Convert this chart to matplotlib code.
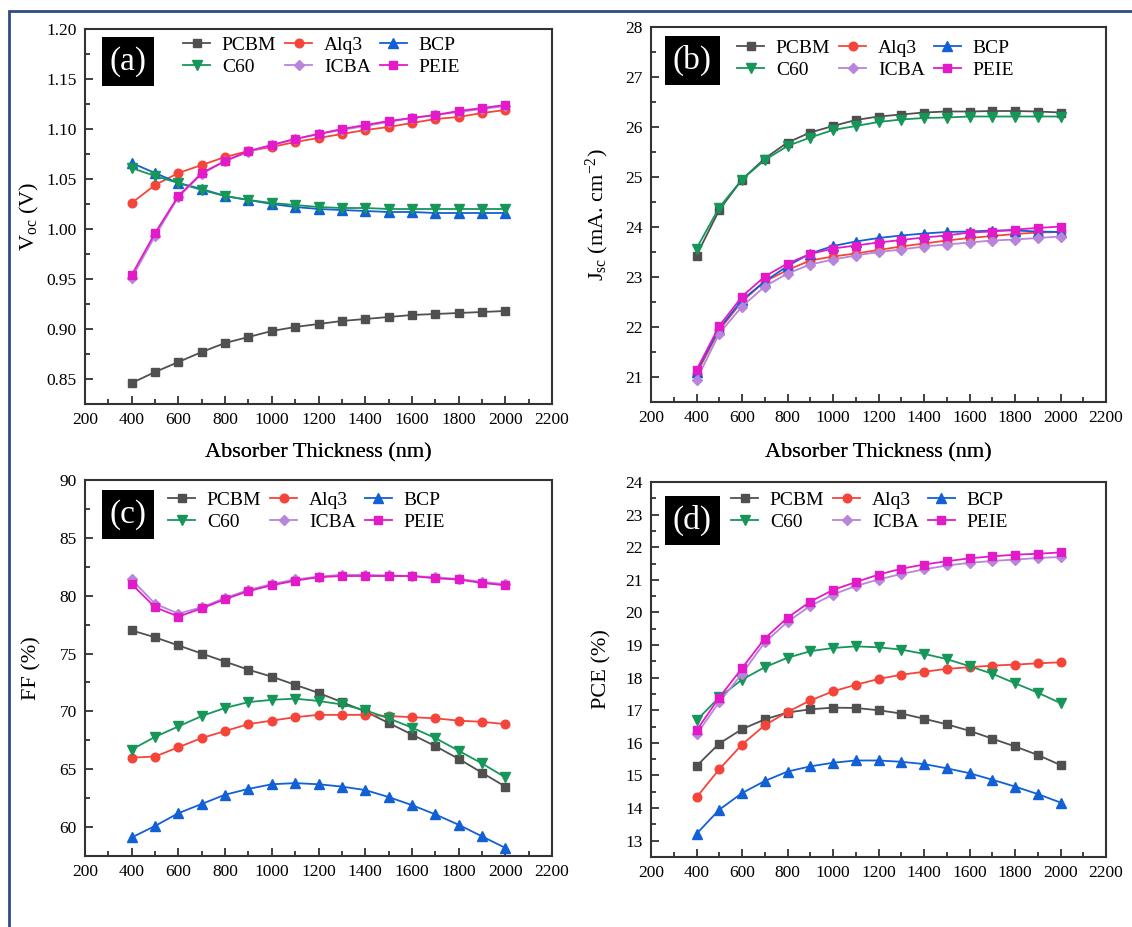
import matplotlib
matplotlib.use("Agg")
import matplotlib.pyplot as plt
from matplotlib.patches import Rectangle
from matplotlib.ticker import MultipleLocator

plt.rcParams['font.family'] = ['Liberation Serif', 'DejaVu Serif']
plt.rcParams['mathtext.fontset'] = 'custom'
plt.rcParams['mathtext.rm'] = 'Liberation Serif'
plt.rcParams['mathtext.it'] = 'Liberation Serif:italic'

thickness = [400, 500, 600, 700, 800, 900, 1000, 1100, 1200, 1300, 1400, 1500, 1600, 1700, 1800, 1900, 2000]
series_names = ["PCBM", "Alq3", "BCP", "C60", "ICBA", "PEIE"]

# (a) Voc (V)
voc_pcbm = [0.846, 0.857, 0.867, 0.877, 0.886, 0.892, 0.898, 0.902, 0.905, 0.908, 0.910, 0.912, 0.914, 0.915, 0.916, 0.917, 0.918]
voc_alq3 = [1.026, 1.044, 1.056, 1.064, 1.072, 1.078, 1.082, 1.087, 1.091, 1.095, 1.099, 1.102, 1.106, 1.110, 1.112, 1.116, 1.119]
voc_bcp = [1.066, 1.056, 1.046, 1.040, 1.033, 1.029, 1.025, 1.022, 1.020, 1.019, 1.018, 1.017, 1.017, 1.016, 1.016, 1.016, 1.016]
voc_c60 = [1.061, 1.053, 1.046, 1.039, 1.033, 1.029, 1.026, 1.024, 1.022, 1.021, 1.021, 1.020, 1.020, 1.020, 1.020, 1.020, 1.020]
voc_icba = [0.951, 0.993, 1.032, 1.055, 1.068, 1.077, 1.084, 1.090, 1.095, 1.099, 1.103, 1.107, 1.111, 1.114, 1.117, 1.120, 1.123]
voc_peie = [0.954, 0.996, 1.033, 1.056, 1.068, 1.078, 1.084, 1.090, 1.095, 1.100, 1.104, 1.108, 1.111, 1.114, 1.118, 1.121, 1.124]

# (b) Jsc (mA cm^-2)
jsc_pcbm = [23.43, 24.34, 24.95, 25.37, 25.69, 25.89, 26.02, 26.14, 26.21, 26.25, 26.29, 26.31, 26.31, 26.32, 26.32, 26.31, 26.29]
jsc_alq3 = [21.06, 21.94, 22.51, 22.91, 23.14, 23.33, 23.41, 23.47, 23.54, 23.61, 23.67, 23.73, 23.78, 23.82, 23.86, 23.89, 23.90]
jsc_bcp = [21.11, 21.97, 22.54, 22.91, 23.22, 23.47, 23.62, 23.71, 23.78, 23.83, 23.87, 23.90, 23.91, 23.93, 23.93, 23.91, 23.90]
jsc_c60 = [23.57, 24.39, 24.95, 25.34, 25.62, 25.79, 25.94, 26.02, 26.10, 26.15, 26.18, 26.19, 26.21, 26.21, 26.21, 26.21, 26.21]
jsc_icba = [20.94, 21.87, 22.41, 22.81, 23.07, 23.25, 23.35, 23.43, 23.50, 23.55, 23.61, 23.65, 23.69, 23.73, 23.75, 23.78, 23.81]
jsc_peie = [21.14, 22.02, 22.61, 23.01, 23.27, 23.46, 23.57, 23.63, 23.69, 23.74, 23.79, 23.83, 23.89, 23.91, 23.95, 23.98, 24.01]

# (c) FF (%)
ff_pcbm = [77.0, 76.4, 75.7, 75.0, 74.3, 73.6, 73.0, 72.3, 71.6, 70.8, 70.0, 69.0, 68.0, 67.0, 65.9, 64.7, 63.5]
ff_alq3 = [66.0, 66.1, 66.9, 67.7, 68.3, 68.9, 69.2, 69.5, 69.7, 69.7, 69.7, 69.6, 69.5, 69.4, 69.2, 69.1, 68.9]
ff_bcp = [59.1, 60.1, 61.2, 62.0, 62.8, 63.3, 63.7, 63.8, 63.7, 63.5, 63.2, 62.6, 61.9, 61.1, 60.2, 59.2, 58.2]
ff_c60 = [66.7, 67.8, 68.7, 69.6, 70.3, 70.8, 71.0, 71.1, 70.9, 70.6, 70.1, 69.4, 68.6, 67.7, 66.6, 65.5, 64.3]
ff_icba = [81.4, 79.3, 78.45, 79.0, 79.8, 80.5, 81.0, 81.4, 81.65, 81.8, 81.8, 81.75, 81.7, 81.6, 81.45, 81.2, 81.0]
ff_peie = [81.0, 79.0, 78.2, 78.9, 79.7, 80.4, 80.9, 81.3, 81.6, 81.7, 81.7, 81.7, 81.7, 81.5, 81.4, 81.1, 80.9]

# (d) PCE (%)
pce_pcbm = [15.29, 15.98, 16.42, 16.72, 16.93, 17.03, 17.08, 17.07, 17.00, 16.90, 16.74, 16.57, 16.37, 16.13, 15.89, 15.63, 15.32]
pce_alq3 = [14.33, 15.19, 15.95, 16.54, 16.95, 17.30, 17.58, 17.78, 17.96, 18.09, 18.18, 18.27, 18.32, 18.37, 18.40, 18.44, 18.47]
pce_bcp = [13.21, 13.95, 14.46, 14.83, 15.12, 15.28, 15.39, 15.46, 15.46, 15.42, 15.35, 15.22, 15.07, 14.87, 14.66, 14.43, 14.17]
pce_c60 = [16.69, 17.40, 17.94, 18.32, 18.61, 18.81, 18.91, 18.96, 18.93, 18.86, 18.73, 18.57, 18.35, 18.12, 17.83, 17.54, 17.22]
pce_icba = [16.26, 17.25, 18.12, 19.08, 19.71, 20.20, 20.55, 20.81, 21.01, 21.18, 21.32, 21.44, 21.52, 21.58, 21.62, 21.67, 21.70]
pce_peie = [16.38, 17.39, 18.29, 19.20, 19.84, 20.33, 20.69, 20.93, 21.16, 21.34, 21.47, 21.57, 21.66, 21.72, 21.77, 21.80, 21.84]

colors = {"PCBM": "#505050", "Alq3": "#f5453a", "BCP": "#1160d6", "C60": "#17965a", "ICBA": "#b884dc", "PEIE": "#e21ac8"}
markers = {"PCBM": ("s", 5.5), "Alq3": ("o", 6.2), "BCP": ("^", 6.8), "C60": ("v", 6.8), "ICBA": ("D", 5.2), "PEIE": ("s", 5.5)}

panels = [
    dict(tag="(a)", data=[voc_pcbm, voc_alq3, voc_bcp, voc_c60, voc_icba, voc_peie],
         ylim=(0.825, 1.20), major=0.05, minor=0.025, fmt="{:.2f}",
         ylabel=r"V$_{\mathrm{oc}}$ (V)", pos=(85, 552, 29, 404),
         leg=(183, 36), box=(102, 154, 37, 86), ylx=41),
    dict(tag="(b)", data=[jsc_pcbm, jsc_alq3, jsc_bcp, jsc_c60, jsc_icba, jsc_peie],
         ylim=(20.5, 28.0), major=1, minor=0.5, fmt="{:.0f}",
         ylabel=r"J$_{\mathrm{sc}}$ (mA. cm$^{-2}$)", pos=(651, 1106, 27, 402),
         leg=(737, 39), box=(665, 720, 36, 85), ylx=611),
    dict(tag="(c)", data=[ff_pcbm, ff_alq3, ff_bcp, ff_c60, ff_icba, ff_peie],
         ylim=(57.5, 90.0), major=5, minor=2.5, fmt="{:.0f}",
         ylabel="FF (%)", pos=(85, 552, 480, 856),
         leg=(168, 491), box=(102, 154, 490, 539), ylx=41),
    dict(tag="(d)", data=[pce_pcbm, pce_alq3, pce_bcp, pce_c60, pce_icba, pce_peie],
         ylim=(12.5, 24.0), major=1, minor=0.5, fmt="{:.0f}",
         ylabel="PCE (%)", pos=(651, 1106, 482, 857),
         leg=(731, 491), box=(665, 720, 496, 545), ylx=611),
]

W, H = 1132, 927
fig = plt.figure(figsize=(W / 100, H / 100), dpi=100)
fig.patch.set_facecolor("white")

# outer frame
fig.add_artist(Rectangle((9 / W, -0.05), 1.2, (H - 11) / H + 0.05, transform=fig.transFigure,
                         fill=False, ec="#2f4d82", lw=2.0))

spine_c = "#333333"
for p in panels:
    l, r, t, b = p["pos"]
    ax = fig.add_axes([l / W, 1 - b / H, (r - l) / W, (b - t) / H])
    aw, ah = r - l, b - t
    lines = {}
    for name, vals in zip(series_names, p["data"]):
        m, ms = markers[name]
        ln, = ax.plot(thickness, vals, color=colors[name], marker=m, ms=ms, lw=1.3,
                      mec=colors[name], mfc=colors[name], label=name)
        lines[name] = ln
    ax.set_xlim(200, 2200)
    ax.set_ylim(*p["ylim"])
    ax.xaxis.set_major_locator(MultipleLocator(200))
    ax.xaxis.set_minor_locator(MultipleLocator(100))
    ax.yaxis.set_major_locator(MultipleLocator(p["major"]))
    ax.yaxis.set_minor_locator(MultipleLocator(p["minor"]))
    fmt = p["fmt"]
    ax.yaxis.set_major_formatter(matplotlib.ticker.FuncFormatter(lambda v, pos, f=fmt: f.format(v)))
    ax.tick_params(which="both", direction="in", top=False, right=False, color=spine_c,
                   labelsize=12.5, width=1.3)
    ax.tick_params(which="major", length=6, pad=6)
    ax.tick_params(which="minor", length=3.5)
    for s in ax.spines.values():
        s.set_linewidth(1.5)
        s.set_color(spine_c)
    ax.set_xlabel("Absorber Thickness (nm)", fontsize=16)
    ax.xaxis.set_label_coords(0.5, -(443 - b) / ah * -1 * -1 if False else -(443 - b) / ah)
    ax.set_ylabel(p["ylabel"], fontsize=16)
    ax.yaxis.set_label_coords(-(l - p["ylx"]) / aw, 0.5)

    order = ["PCBM", "C60", "Alq3", "ICBA", "BCP", "PEIE"]
    lx, ly = p["leg"]
    ax.legend([lines[n] for n in order], order, ncol=3, frameon=False, fontsize=14,
              loc="upper left", bbox_to_anchor=((lx - l) / aw, 1 - (ly - t) / ah),
              borderpad=0, borderaxespad=0, handlelength=1.4, handletextpad=0.6,
              columnspacing=0.45, labelspacing=0.25)

    bx0, bx1, by0, by1 = p["box"]
    ax.add_patch(Rectangle(((bx0 - l) / aw, 1 - (by1 - t) / ah), (bx1 - bx0) / aw, (by1 - by0) / ah,
                           transform=ax.transAxes, facecolor="black", edgecolor="none", zorder=5))
    ax.text(((bx0 + bx1) / 2 - l) / aw, 1 - ((by0 + by1) / 2 - t) / ah, p["tag"],
            transform=ax.transAxes, color="white", fontsize=24, ha="center", va="center", zorder=6)

fig.savefig("out.png", dpi=100)
